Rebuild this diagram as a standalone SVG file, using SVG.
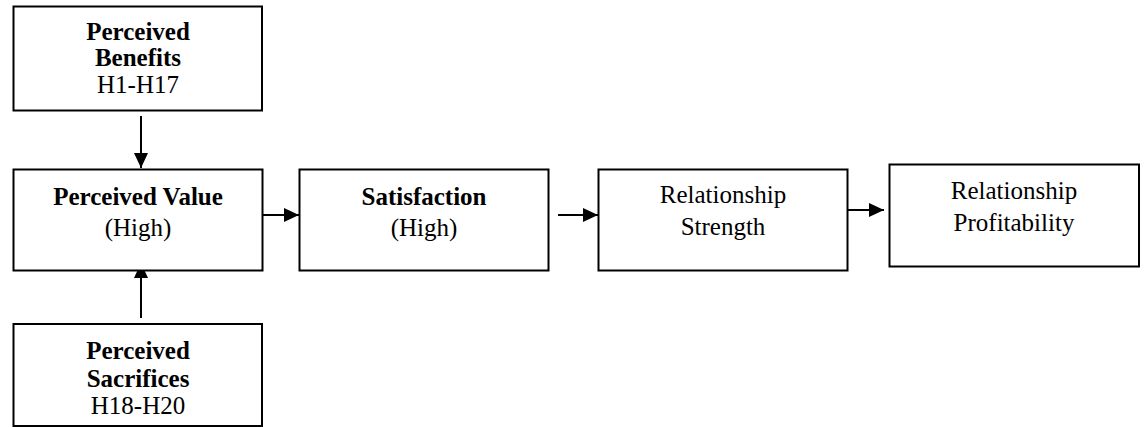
<svg xmlns="http://www.w3.org/2000/svg" width="1144" height="427" viewBox="0 0 1144 427">
<style>
.box{fill:#fff;stroke:#000;stroke-width:2}
.t{font-family:"Liberation Serif","Times New Roman",serif;font-size:25px;fill:#000;text-anchor:middle}
.b{font-weight:bold}
.c{stroke:#000;stroke-width:2;fill:none;marker-end:url(#ah)}
</style>
<defs>
<marker id="ah" markerUnits="userSpaceOnUse" markerWidth="16" markerHeight="15" refX="15" refY="7" orient="auto">
<path d="M0,0 L15,7 L0,14 z" fill="#000"/>
</marker>
</defs>
<rect width="1144" height="427" fill="#fff"/>
<g id="connectors">
<line class="c" x1="141" y1="116" x2="141" y2="168"/>
<line class="c" x1="141" y1="318" x2="141" y2="263"/>
<line class="c" x1="262" y1="215" x2="299" y2="215"/>
<line class="c" x1="558" y1="215" x2="598" y2="215"/>
<line class="c" x1="844" y1="210" x2="884" y2="210"/>
</g>
<g id="benefits">
<rect class="box" x="13.5" y="6.5" width="248.5" height="104"/>
<text class="t b" x="138" y="40">Perceived</text>
<text class="t b" x="138" y="66">Benefits</text>
<text class="t" x="138" y="93">H1-H17</text>
</g>
<g id="value">
<rect class="box" x="13.5" y="169.5" width="249" height="101"/>
<text class="t b" x="138" y="205">Perceived Value</text>
<text class="t" x="138" y="236">(High)</text>
</g>
<g id="satisfaction">
<rect class="box" x="299.5" y="169.5" width="249" height="101"/>
<text class="t b" x="424" y="205">Satisfaction</text>
<text class="t" x="424" y="236">(High)</text>
</g>
<g id="strength">
<rect class="box" x="598.5" y="169.5" width="249" height="101"/>
<text class="t" x="723" y="203">Relationship</text>
<text class="t" x="723" y="235">Strength</text>
</g>
<g id="profitability">
<rect class="box" x="889.5" y="164.5" width="249.5" height="102"/>
<text class="t" x="1014" y="199">Relationship</text>
<text class="t" x="1014" y="231">Profitability</text>
</g>
<g id="sacrifices">
<rect class="box" x="13.5" y="324" width="248.5" height="102"/>
<text class="t b" x="138" y="359">Perceived</text>
<text class="t b" x="138" y="387">Sacrifices</text>
<text class="t" x="138" y="414">H18-H20</text>
</g>
</svg>
